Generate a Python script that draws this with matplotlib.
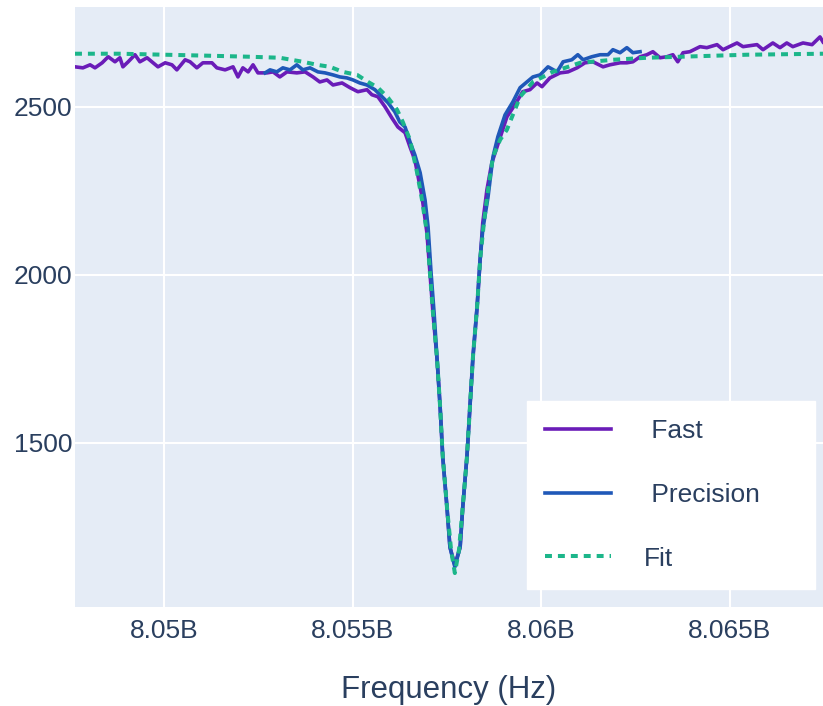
import matplotlib.pyplot as plt
from matplotlib.ticker import FuncFormatter

plt.rcParams['font.family'] = ['Liberation Sans', 'DejaVu Sans']
plt.rcParams['lines.scale_dashes'] = False

# frequencies in MHz, amplitudes
fast_freq = [8047.64, 8047.85, 8048.04, 8048.17, 8048.36, 8048.52, 8048.70, 8048.83, 8048.91, 8049.05,
             8049.23, 8049.36, 8049.55, 8049.71, 8049.84, 8050.03, 8050.21, 8050.34, 8050.56, 8050.69,
             8050.87, 8051.03, 8051.27, 8051.40, 8051.62, 8051.83, 8051.96, 8052.09, 8052.23, 8052.36,
             8052.49, 8052.73, 8052.89, 8053.07, 8053.26, 8053.52, 8053.74, 8053.95, 8054.13, 8054.32,
             8054.48, 8054.72, 8054.93, 8055.14, 8055.38, 8055.51, 8055.67, 8055.86, 8056.04, 8056.20,
             8056.39, 8056.52, 8056.60, 8056.65, 8056.84, 8056.97, 8057.05, 8057.13, 8057.24, 8057.32,
             8057.39, 8057.50, 8057.58, 8057.71, 8057.85, 8057.92, 8058.03, 8058.11, 8058.19, 8058.30,
             8058.38, 8058.45, 8058.56, 8058.69, 8058.83, 8059.09, 8059.30, 8059.51, 8059.70, 8059.89,
             8060.02, 8060.23, 8060.50, 8060.71, 8060.95, 8061.16, 8061.37, 8061.64, 8061.82, 8062.09,
             8062.27, 8062.43, 8062.62, 8062.80, 8062.96, 8063.15, 8063.33, 8063.49, 8063.62, 8063.76,
             8063.94, 8064.21, 8064.39, 8064.66, 8064.82, 8065.19, 8065.35, 8065.72, 8065.88, 8066.14,
             8066.33, 8066.51, 8066.67, 8066.94, 8067.18, 8067.39, 8067.47]
fast_vals = [2619, 2616, 2625, 2616, 2631, 2649, 2634, 2646, 2619, 2634,
             2655, 2634, 2646, 2631, 2619, 2631, 2625, 2610, 2640, 2634,
             2616, 2631, 2631, 2616, 2610, 2619, 2589, 2616, 2604, 2625,
             2601, 2601, 2604, 2589, 2604, 2601, 2604, 2589, 2574, 2580,
             2565, 2571, 2557, 2545, 2551, 2536, 2530, 2500, 2467, 2440,
             2423, 2381, 2357, 2342, 2232, 2125, 2006, 1887, 1747, 1607,
             1458, 1310, 1190, 1137, 1190, 1310, 1458, 1607, 1756, 1905,
             2045, 2155, 2253, 2333, 2381, 2470, 2506, 2545, 2551, 2571,
             2560, 2586, 2601, 2604, 2616, 2631, 2634, 2619, 2625, 2631,
             2631, 2634, 2649, 2655, 2664, 2646, 2649, 2655, 2634, 2661,
             2664, 2679, 2676, 2685, 2670, 2690, 2679, 2685, 2670, 2690,
             2676, 2690, 2679, 2690, 2685, 2708, 2693]

prec_freq = [8052.68, 8052.81, 8052.99, 8053.15, 8053.34, 8053.52, 8053.68, 8053.87, 8054.08, 8054.27,
             8054.48, 8054.66, 8054.85, 8055.01, 8055.19, 8055.38, 8055.59, 8055.78, 8055.94, 8056.12,
             8056.25, 8056.39, 8056.52, 8056.65, 8056.79, 8056.92, 8057.00, 8057.08, 8057.16, 8057.24,
             8057.32, 8057.39, 8057.50, 8057.58, 8057.71, 8057.85, 8057.92, 8058.03, 8058.11, 8058.19,
             8058.30, 8058.38, 8058.45, 8058.59, 8058.72, 8058.85, 8059.04, 8059.25, 8059.44, 8059.62,
             8059.78, 8059.97, 8060.18, 8060.42, 8060.58, 8060.81, 8060.97, 8061.11, 8061.34, 8061.56,
             8061.77, 8061.90, 8062.09, 8062.27, 8062.43, 8062.62]
prec_vals = [2601, 2610, 2604, 2616, 2610, 2625, 2610, 2616, 2604, 2601,
             2595, 2589, 2586, 2580, 2571, 2565, 2551, 2530, 2512, 2485,
             2455, 2440, 2396, 2357, 2304, 2223, 2143, 2006, 1887, 1747,
             1607, 1458, 1310, 1190, 1131, 1190, 1310, 1458, 1607, 1756,
             1905, 2045, 2134, 2232, 2351, 2411, 2476, 2515, 2557, 2574,
             2589, 2595, 2619, 2604, 2634, 2640, 2655, 2640, 2649, 2655,
             2655, 2670, 2661, 2676, 2661, 2664]

fit_freq = [8047.64, 8048.83, 8050.03, 8051.22, 8052.28, 8053.07, 8053.68, 8054.06, 8054.40, 8054.74,
            8055.12, 8055.41, 8055.67, 8055.94, 8056.18, 8056.33, 8056.52, 8056.71, 8056.84, 8056.97,
            8057.05, 8057.13, 8057.24, 8057.32, 8057.39, 8057.50, 8057.61, 8057.71, 8057.82, 8057.92,
            8058.03, 8058.11, 8058.19, 8058.30, 8058.38, 8058.48, 8058.59, 8058.72, 8058.91, 8059.09,
            8059.44, 8059.78, 8060.31, 8061.03, 8061.90, 8062.80, 8063.68, 8065.45, 8067.47]
fit_vals = [2658, 2658, 2655, 2652, 2649, 2646, 2634, 2625, 2619, 2604,
            2595, 2574, 2557, 2527, 2491, 2455, 2402, 2304, 2223, 2125,
            2006, 1887, 1747, 1607, 1458, 1310, 1182, 1113, 1182, 1310,
            1458, 1607, 1756, 1905, 2045, 2155, 2253, 2351, 2402, 2432,
            2530, 2574, 2604, 2631, 2640, 2646, 2649, 2655, 2658]

text_col = '#2a3f5f'

fig = plt.figure(figsize=(8.23, 7.06), dpi=100)
ax = fig.add_axes([75 / 823, 1 - 607 / 706, 748 / 823, 600 / 706])
ax.set_facecolor('#e5ecf6')

ax.plot([f * 1e6 for f in fast_freq], fast_vals, color='#6a1cb8', lw=2.6, label=' Fast', zorder=3)
ax.plot([f * 1e6 for f in prec_freq], prec_vals, color='#1f58b8', lw=2.6, label=' Precision', zorder=4)
ax.plot([f * 1e6 for f in fit_freq], fit_vals, color='#1cb68a', lw=2.9, dashes=(5.0, 4.3),
        label='Fit', zorder=5)

ax.set_xlim(8047.64e6, 8067.47e6)
ax.set_ylim(1012, 2797)
ax.set_xticks([8.05e9, 8.055e9, 8.06e9, 8.065e9])
ax.set_yticks([1500, 2000, 2500])
ax.xaxis.set_major_formatter(FuncFormatter(lambda v, p: f'{v / 1e9:g}B'))
ax.grid(True, color='white', lw=1.5)
ax.set_axisbelow(True)
for s in ax.spines.values():
    s.set_visible(False)
ax.tick_params(length=0, labelsize=19, labelcolor=text_col)
ax.tick_params(axis='x', pad=9)
ax.tick_params(axis='y', pad=2)
ax.set_xlabel('Frequency (Hz)', fontsize=22.5, color=text_col, labelpad=23)

leg = ax.legend(loc='lower left', bbox_to_anchor=(0.604, 0.03, 0.385, 0.33), mode='expand',
                fontsize=19, frameon=True, fancybox=False, framealpha=1, edgecolor='white',
                handlelength=2.5, handletextpad=1.25, labelspacing=1.5, borderpad=0.7,
                borderaxespad=0)
for t in leg.get_texts():
    t.set_color(text_col)

fig.savefig('out.png', dpi=100)
